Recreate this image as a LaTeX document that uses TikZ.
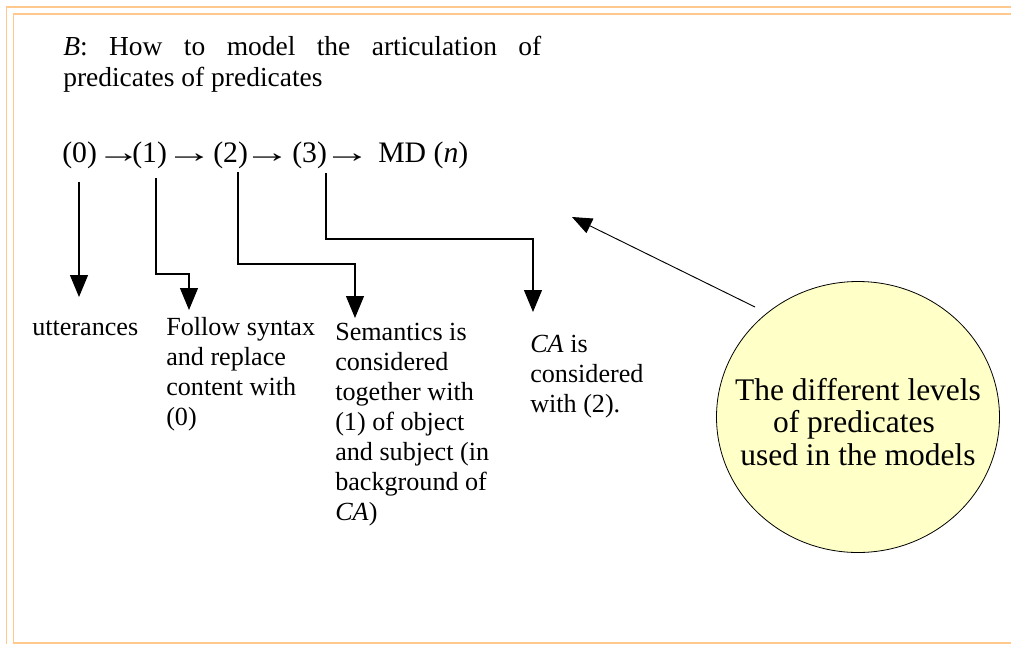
\documentclass[tikz,border=0pt]{standalone}
\usepackage{fontspec}
\setmainfont{Liberation Serif}
\usetikzlibrary{arrows.meta,shapes.geometric}
\definecolor{framec}{RGB}{255,200,140}
\definecolor{bubblec}{RGB}{255,255,200}
\newcommand{\wideArrow}[1]{\scalebox{#1}[1]{→}}
\begin{document}
\begin{tikzpicture}[x=0.75pt,y=-0.75pt,
  frameline/.style={draw=framec,line width=1.1pt},
  titletext/.style={inner sep=0pt,anchor=base west,align=left,font=\fontsize{20.6}{23.5}\selectfont},
  chaintext/.style={inner sep=0pt,anchor=base west,font=\fontsize{22.3}{26}\selectfont},
  arrowtext/.style={inner sep=0pt,anchor=base west,font=\fontsize{22.3}{26}\selectfont},
  labeltext/.style={inner sep=0pt,anchor=base west,align=left,font=\fontsize{19.6}{22.5}\selectfont},
  conn/.style={draw=black,line width=0.9pt,-{Triangle[width=13.5pt,length=16.5pt]}},
  pointer/.style={draw=black,line width=0.7pt,-{Triangle[width=12pt,length=15pt]}},
  bubble/.style={ellipse,draw=black,line width=0.6pt,fill=bubblec,minimum width=212.25pt,minimum height=203.25pt,inner sep=0pt},
  bubbletext/.style={inner sep=0pt,align=center,font=\fontsize{23.6}{24.4}\selectfont}]
\useasboundingbox (0,0) rectangle (1011,644);
% frame
\draw[frameline] (1011,7) -- (6.5,7) -- (6.5,644);
\draw[frameline] (1011,14) -- (13.5,14) -- (13.5,643) -- (1011,643);
% title
\node[titletext] (title1) at (63,55) {\makebox[358.5pt][s]{\textit{B}: How to model the articulation of}};
\node[titletext] (title2) at (63,86) {predicates of predicates};
% chain
\node[chaintext] (n0) at (62,162) {(0)};
\node[arrowtext] (a0) at (96,162) {\wideArrow{1.5}};
\node[chaintext] (n1) at (132,162) {(1)};
\node[arrowtext] (a1) at (165,162) {\wideArrow{1.6}};
\node[chaintext] (n2) at (213,162) {(2)};
\node[arrowtext] (a2) at (243,162) {\wideArrow{1.6}};
\node[chaintext] (n3) at (292,162) {(3)};
\node[arrowtext] (a3) at (323,162) {\wideArrow{1.6}};
\node[chaintext] (nmd) at (378,162) {MD (\textit{n})};
% labels (base anchor = baseline of last line)
\node[labeltext] (l0) at (32,335) {utterances};
\node[labeltext] (l1) at (166,425) {Follow syntax\\and replace\\content with\\(0)};
\node[labeltext] (l2) at (335,520) {Semantics is\\considered\\together with\\(1) of object\\and subject (in\\background of\\\textit{CA})};
\node[labeltext] (l3) at (530,412) {\textit{CA} is\\considered\\with (2).};
% connector coordinates
\coordinate (s0) at (79,182);
\coordinate (t0) at (79,297);
\coordinate (s1) at (156,178);
\coordinate (k1) at (189,274);
\coordinate (t1) at (189,310);
\coordinate (s2) at (238,172);
\coordinate (k2) at (355,264);
\coordinate (t2) at (355,318);
\coordinate (s3) at (326,173);
\coordinate (k3) at (533,239);
\coordinate (t3) at (533,312);
\draw[conn] (s0) -- (t0);
\draw[conn] (s1) |- (k1) -- (t1);
\draw[conn] (s2) |- (k2) -- (t2);
\draw[conn] (s3) |- (k3) -- (t3);
% bubble
\node[bubble] (circ) at (858,417) {};
\node[bubbletext] (ctext) at (858,422) {The different levels\\of predicates\kern6pt\\used in the models};
\coordinate (pstart) at (755,307);
\coordinate (ptip) at (572,217);
\draw[pointer] (pstart) -- (ptip);
\end{tikzpicture}
\end{document}
